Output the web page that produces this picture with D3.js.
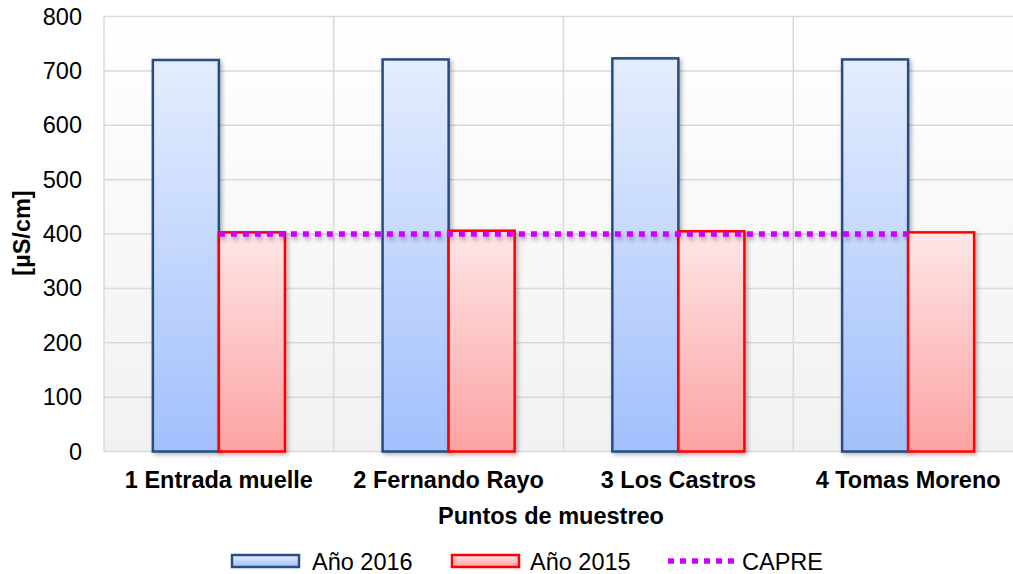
<!DOCTYPE html>
<html>
<head>
<meta charset="utf-8">
<script src="https://cdn.jsdelivr.net/npm/d3@7"></script>
<style>
  html, body { margin: 0; padding: 0; background: #ffffff; }
  svg { display: block; font-family: "Liberation Sans", Arial, sans-serif; }
</style>
</head>
<body>
<svg id="chart" width="1013" height="574"></svg>
<script>
// Conductividad por punto de muestreo
const categories = ["1 Entrada muelle", "2 Fernando Rayo", "3 Los Castros", "4 Tomas Moreno"];
const values2016 = [720, 721, 723, 721];
const values2015 = [403, 406, 405, 403];
const capre = [400, 400, 400, 400];
const yTicks = [0, 100, 200, 300, 400, 500, 600, 700, 800];
const seriesNames = ["Año 2016", "Año 2015", "CAPRE"];

const svg = d3.select("#chart");
const FS = 23.5;
const W = 1013, H = 574;
const x0 = 104, x1 = 1023;
const yTop = 16.5, yBot = 451.5;

const x = d3.scaleBand().domain(categories).range([x0, x1]).paddingInner(0).paddingOuter(0);
const inner = d3.scaleBand().domain(["a2016", "a2015"]).range([0, x.bandwidth()]).paddingInner(0).paddingOuter(0.74);
const y = d3.scaleLinear().domain([0, 800]).range([yBot, yTop]);

const defs = svg.append("defs");
function vGrad(id, top, bottom) {
  const g = defs.append("linearGradient").attr("id", id).attr("x1", 0).attr("y1", 0).attr("x2", 0).attr("y2", 1);
  g.append("stop").attr("offset", "0%").attr("stop-color", top);
  g.append("stop").attr("offset", "100%").attr("stop-color", bottom);
}
vGrad("bgGrad", "#ffffff", "#f1f1f1");
vGrad("blueGrad", "#e4edfd", "#a2c0fc");
vGrad("redGrad", "#fee6e6", "#fda2a2");

const sh = defs.append("filter").attr("id", "barShadow").attr("x", "-20%").attr("y", "-5%").attr("width", "150%").attr("height", "115%");
sh.append("feDropShadow").attr("dx", 2).attr("dy", 2).attr("stdDeviation", 2).attr("flood-color", "#000").attr("flood-opacity", 0.3);
const lsh = defs.append("filter").attr("id", "lineShadow").attr("filterUnits", "userSpaceOnUse")
  .attr("x", 0).attr("y", 0).attr("width", W).attr("height", H);
lsh.append("feDropShadow").attr("dx", 1.5).attr("dy", 3).attr("stdDeviation", 2).attr("flood-color", "#5a2a6a").attr("flood-opacity", 0.45);

// plot background
svg.append("rect").attr("x", x0).attr("y", yTop).attr("width", x1 - x0).attr("height", yBot - yTop).attr("fill", "url(#bgGrad)");

// horizontal grid
svg.append("g").selectAll("line").data(yTicks).join("line")
  .attr("x1", x0).attr("x2", x1).attr("y1", d => y(d)).attr("y2", d => y(d))
  .attr("stroke", "#d9d9d9").attr("stroke-width", 1.5);
// vertical grid at category boundaries
const bounds = categories.map(c => x(c)).concat([x1]);
svg.append("g").selectAll("line").data(bounds).join("line")
  .attr("x1", d => d).attr("x2", d => d).attr("y1", yTop).attr("y2", yBot)
  .attr("stroke", "#d9d9d9").attr("stroke-width", 1.5);

// y axis tick labels
const yAxis = d3.axisLeft(y).tickValues(yTicks).tickSize(0).tickPadding(22);
const ya = svg.append("g").attr("transform", `translate(${x0},0)`).call(yAxis);
ya.select(".domain").remove();
ya.selectAll("text").attr("font-size", FS).attr("fill", "#000").attr("font-family", "Liberation Sans, Arial, sans-serif");

// x axis category labels
const xAxis = d3.axisBottom(x).tickSize(0).tickPadding(20);
const xa = svg.append("g").attr("transform", `translate(0,${yBot})`).call(xAxis);
xa.select(".domain").remove();
xa.selectAll("text").attr("font-size", FS).attr("font-weight", "bold").attr("fill", "#000").attr("font-family", "Liberation Sans, Arial, sans-serif");

// bars
const rows = categories.map((c, i) => ({ c, a2016: values2016[i], a2015: values2015[i] }));
const bars = svg.append("g");
bars.selectAll("rect.b16").data(rows).join("rect").attr("class", "b16")
  .attr("x", d => x(d.c) + inner("a2016")).attr("width", inner.bandwidth())
  .attr("y", d => y(d.a2016)).attr("height", d => y(0) - y(d.a2016))
  .attr("fill", "url(#blueGrad)").attr("stroke", "#254e82").attr("stroke-width", 2.5)
  .attr("filter", "url(#barShadow)");
bars.selectAll("rect.b15").data(rows).join("rect").attr("class", "b15")
  .attr("x", d => x(d.c) + inner("a2015")).attr("width", inner.bandwidth())
  .attr("y", d => y(d.a2015)).attr("height", d => y(0) - y(d.a2015))
  .attr("fill", "url(#redGrad)").attr("stroke", "#ff0000").attr("stroke-width", 2.5)
  .attr("filter", "url(#barShadow)");

// CAPRE reference line through category centres
const line = d3.line().x((d, i) => x(categories[i]) + x.bandwidth() / 2).y(d => y(d));
svg.append("path").datum(capre).attr("d", line)
  .attr("fill", "none").attr("stroke", "#cc00ff").attr("stroke-width", 5.5)
  .attr("stroke-dasharray", "6 6").attr("filter", "url(#lineShadow)");

// axis titles
svg.append("text").attr("x", 551).attr("y", 524).attr("text-anchor", "middle")
  .attr("font-size", FS).attr("font-weight", "bold").text("Puntos de muestreo");
svg.append("text").attr("transform", "translate(30,233) rotate(-90)").attr("text-anchor", "middle")
  .attr("font-size", FS).attr("font-weight", "bold").text("[µS/cm]");

// legend
const lg = svg.append("g");
const ly = 561;
lg.append("rect").attr("x", 232).attr("y", ly - 6).attr("width", 67).attr("height", 12)
  .attr("fill", "url(#blueGrad)").attr("stroke", "#254e82").attr("stroke-width", 2.5);
lg.append("text").attr("x", 312).attr("y", ly + 8.5).attr("font-size", FS).text(seriesNames[0]);
lg.append("rect").attr("x", 452).attr("y", ly - 6).attr("width", 67).attr("height", 12)
  .attr("fill", "url(#redGrad)").attr("stroke", "#ff0000").attr("stroke-width", 2.5);
lg.append("text").attr("x", 530).attr("y", ly + 8.5).attr("font-size", FS).text(seriesNames[1]);
lg.append("line").attr("x1", 668).attr("x2", 734).attr("y1", ly).attr("y2", ly)
  .attr("stroke", "#cc00ff").attr("stroke-width", 5.5).attr("stroke-dasharray", "6 6");
lg.append("text").attr("x", 742).attr("y", ly + 8.5).attr("font-size", FS).text(seriesNames[2]);
</script>
</body>
</html>
